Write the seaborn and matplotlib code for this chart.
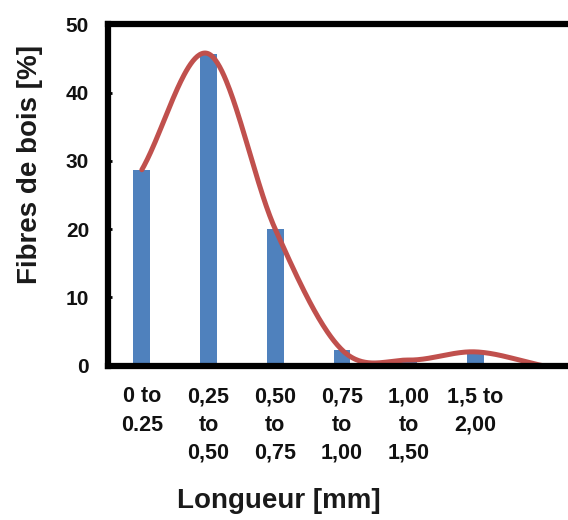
import numpy as np
import pandas as pd
import matplotlib
matplotlib.use("Agg")
import matplotlib.pyplot as plt
import seaborn as sns

# ---- data ----
categories = ["0 to\n0.25", "0,25\nto\n0,50", "0,50\nto\n0,75", "0,75\nto\n1,00",
              "1,00\nto\n1,50", "1,5 to\n2,00", " "]
fibres = [28.7, 45.7, 20.0, 2.3, 0.8, 2.0, 0.0]
yticks = [0, 10, 20, 30, 40, 50]

sns.set_theme(style="white")
plt.rcParams['font.family'] = ['Liberation Sans', 'DejaVu Sans']
plt.rcParams['font.weight'] = 'bold'

fig = plt.figure(figsize=(5.68, 5.20), dpi=100)
ax = fig.add_axes([0.191, 0.2971, 0.8219, 0.6558])

df = pd.DataFrame({"cat": categories, "val": fibres})
sns.barplot(data=df, x="cat", y="val", order=categories, color="#4F81BD",
            saturation=1, width=0.25, ax=ax, edgecolor="none", linewidth=0)


# smooth (Catmull-Rom) line through the data points, like a spreadsheet smoothed line
def catmull_rom(y, n=60):
    y = np.asarray(y, dtype=float)
    k = len(y)
    m = np.zeros(k)
    m[1:-1] = (y[2:] - y[:-2]) / 2.0
    m[0] = y[1] - y[0]
    m[-1] = y[-1] - y[-2]
    xs, ys = [], []
    for i in range(k - 1):
        t = np.linspace(0, 1, n, endpoint=(i == k - 2))
        h00 = 2 * t**3 - 3 * t**2 + 1
        h10 = t**3 - 2 * t**2 + t
        h01 = -2 * t**3 + 3 * t**2
        h11 = t**3 - t**2
        xs.append(i + t)
        ys.append(h00 * y[i] + h10 * m[i] + h01 * y[i + 1] + h11 * m[i + 1])
    return np.concatenate(xs), np.concatenate(ys)


cx, cy = catmull_rom(fibres)
sns.lineplot(x=cx, y=cy, ax=ax, color="#C0504D", linewidth=3.6, sort=False,
             solid_capstyle="round")

ax.set_xlim(-0.5, 6.5)
ax.set_ylim(0, 50)
ax.set_yticks(yticks)
ax.set_yticklabels([str(v) for v in yticks])

for sp in ax.spines.values():
    sp.set_visible(True)
    sp.set_color("black")
    sp.set_linewidth(4.5)

ax.tick_params(axis="y", direction="in", length=3, width=2, color="black",
               pad=14, labelsize=15, labelcolor="#111111", left=True)
ax.tick_params(axis="x", length=0, pad=15, labelsize=15.5, labelcolor="#111111")
for lab in ax.get_xticklabels():
    lab.set_linespacing(1.45)
    lab.set_multialignment("center")
    lab.set_fontweight("bold")
for lab in ax.get_yticklabels():
    lab.set_fontweight("bold")

ax.set_ylabel("Fibres de bois [%]", fontsize=20, fontweight="bold", color="#1a1a1a",
              va="center", ha="center")
ax.yaxis.set_label_coords(-0.168, 0.588)
ax.set_xlabel("Longueur [mm]", fontsize=20, fontweight="bold", color="#1a1a1a",
              va="center", ha="center")
ax.xaxis.set_label_coords(0.364, -0.396)

ax.grid(False)
fig.savefig("out.png", dpi=100)
